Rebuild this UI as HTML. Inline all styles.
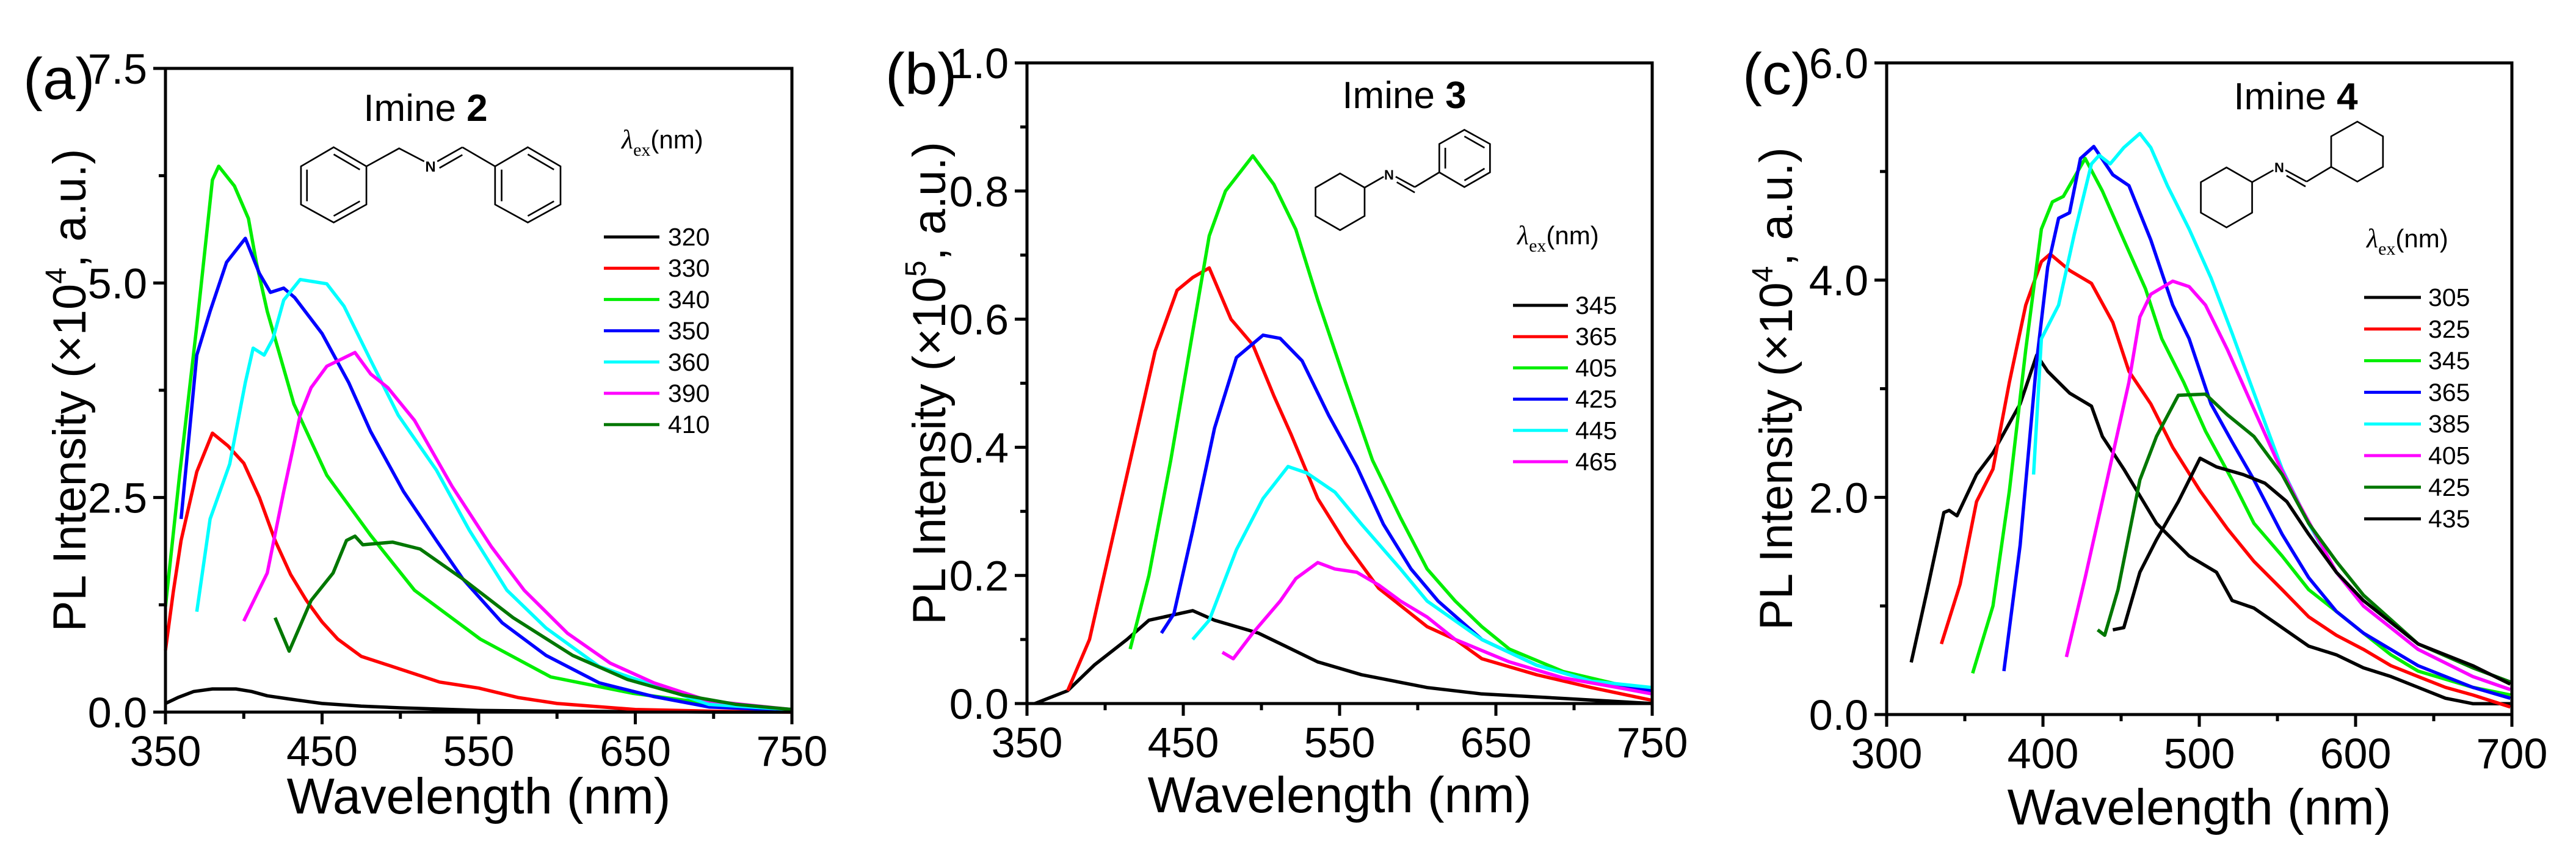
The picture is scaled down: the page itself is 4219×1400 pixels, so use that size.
<!DOCTYPE html>
<html><head><meta charset="utf-8"><style>
html,body{margin:0;padding:0;background:#fff;}
svg{display:block;}
text{font-family:"Liberation Sans",sans-serif;fill:#000;}
</style></head><body>
<svg id="fig" width="4219" height="1400" viewBox="0 0 4219 1400" xmlns="http://www.w3.org/2000/svg">
<g transform="translate(0,0) scale(0.893)" fill="none" stroke="#000" stroke-width="3">
<polygon points="612,270 672,305 672,375 612,408 552,375 552,305"/>
<line x1="612" y1="283" x2="660" y2="311"/><line x1="660" y1="369" x2="612" y2="396"/><line x1="563" y1="311" x2="563" y2="369"/>
<polyline points="672,305 732,272 778,296"/>
<line x1="802" y1="296" x2="848" y2="270"/><line x1="806" y1="308" x2="848" y2="284"/>
<line x1="848" y1="270" x2="908" y2="305"/>
<polygon points="968,270 1028,305 1028,375 968,408 908,375 908,305"/>
<line x1="968" y1="283" x2="1016" y2="311"/><line x1="1016" y1="369" x2="968" y2="396"/><line x1="920" y1="311" x2="920" y2="369"/>
</g>
<text x="705" y="281" font-size="24" font-weight="bold" text-anchor="middle">N</text>
<g transform="translate(1400,0) scale(0.893)" fill="none" stroke="#000" stroke-width="3">
<polygon points="890,318 935,344 935,396 890,422 845,396 845,344"/>
<line x1="935" y1="344" x2="970" y2="324"/>
<line x1="992" y1="324" x2="1027" y2="343"/><line x1="994" y1="334" x2="1027" y2="353"/>
<line x1="1027" y1="343" x2="1072" y2="316"/>
<polygon points="1118,238 1165,264 1165,316 1118,343 1072,316 1072,264"/>
<line x1="1118" y1="250" x2="1155" y2="271"/><line x1="1155" y1="309" x2="1118" y2="331"/><line x1="1083" y1="271" x2="1083" y2="309"/>
</g>
<text x="2275" y="294" font-size="22" font-weight="bold" text-anchor="middle">N</text>
<g transform="translate(2800,0) scale(0.893)" fill="none" stroke="#000" stroke-width="3">
<polygon points="948,307 995,334 995,390 948,417 901,390 901,334"/>
<line x1="995" y1="334" x2="1034" y2="312"/>
<line x1="1056" y1="312" x2="1095" y2="333"/><line x1="1058" y1="322" x2="1093" y2="342"/>
<line x1="1095" y1="333" x2="1140" y2="306"/>
<polygon points="1188,223 1235,250 1235,306 1188,333 1140,306 1140,250"/>
</g>
<text x="3733" y="282" font-size="22" font-weight="bold" text-anchor="middle">N</text>
</svg>
<script>
// ---------- Panel (a) Imine 2 ----------
const A_LEGEND = ["320","330","340","350","360","390","410"];
const A_X_TICKS = [350,450,550,650,750];
const A_Y_TICKS = [0,2.5,5.0,7.5];
const A_Y_LABELS = ["0.0","2.5","5.0","7.5"];
const A_WL_320 = [350,358,368,380,395,405,415,430,450,475,500,550,600,650,700,750];
const A_I_320 = [0.1,0.17,0.24,0.27,0.27,0.24,0.19,0.15,0.1,0.07,0.05,0.02,0.01,0.005,0,0];
const A_WL_330 = [350,355,360,370,380,390,400,410,420,430,440,450,460,475,500,525,550,575,600,650,700,750];
const A_I_330 = [0.72,1.4,2.0,2.8,3.25,3.1,2.9,2.5,2.0,1.6,1.3,1.05,0.85,0.65,0.5,0.35,0.28,0.17,0.1,0.03,0.01,0];
const A_WL_340 = [350,359,370,380,384,394,403,408,415,432,453,481,509,551,596,648,697,750];
const A_I_340 = [1.23,2.76,4.5,6.2,6.36,6.13,5.75,5.24,4.67,3.59,2.76,2.06,1.42,0.85,0.41,0.22,0.1,0.03];
const A_WL_350 = [360,370,378.5,389,401,410,417,425.5,432.5,450,467,481,502,523,540,565,593,627,662,697,750];
const A_I_350 = [2.25,4.16,4.67,5.24,5.52,5.11,4.89,4.94,4.83,4.41,3.84,3.27,2.57,2.0,1.55,1.04,0.66,0.34,0.18,0.06,0.02];
const A_WL_360 = [370,378.5,391,401,406,413,418.6,425.5,436,453,464,481,498.6,523,544,568,593,627,662,697,750];
const A_I_360 = [1.17,2.25,2.89,3.84,4.24,4.16,4.35,4.8,5.04,4.99,4.73,4.1,3.46,2.82,2.12,1.42,0.98,0.53,0.31,0.09,0.03];
const A_WL_390 = [400,415,425.5,436,443,453,471,481,492,509,533,558,579,606.6,634,662,697,750];
const A_I_390 = [1.06,1.62,2.57,3.46,3.78,4.03,4.19,3.94,3.78,3.4,2.63,1.93,1.42,0.92,0.57,0.34,0.13,0.03];
const A_WL_410 = [420,429,443,457,465.6,471,476,495,512.6,540,572,610,645,680,714.5,750];
const A_I_410 = [1.1,0.71,1.3,1.62,2.0,2.05,1.95,1.98,1.9,1.55,1.1,0.66,0.38,0.2,0.09,0.03];

// ---------- Panel (b) Imine 3 ----------
const B_LEGEND = ["345","365","405","425","445","465"];
const B_X_TICKS = [350,450,550,650,750];
const B_Y_TICKS = [0,0.2,0.4,0.6,0.8,1.0];
const B_Y_LABELS = ["0.0","0.2","0.4","0.6","0.8","1.0"];
const B_WL_345 = [355,376,393,414,428,456,470,498,515,536,564,606,641,693,750];
const B_I_345 = [0,0.02,0.06,0.1,0.13,0.145,0.13,0.11,0.09,0.065,0.045,0.025,0.015,0.008,0];
const B_WL_365 = [376,390,404,418,432,446,456,466.6,480.5,494.5,508,519,536,554,575,606,624,641,676,711,750];
const B_I_365 = [0.02,0.1,0.25,0.4,0.55,0.645,0.665,0.68,0.6,0.56,0.48,0.42,0.32,0.25,0.18,0.12,0.1,0.07,0.045,0.025,0.005];
const B_WL_405 = [416,428,442,456,466.6,477,494.5,508,522,536,554,571,589,606,624,641,658.6,693,728,750];
const B_I_405 = [0.085,0.2,0.38,0.58,0.73,0.8,0.855,0.81,0.74,0.63,0.5,0.38,0.29,0.21,0.16,0.12,0.085,0.05,0.03,0.02];
const B_WL_425 = [436,444,456,470,484,501,512,526,543,561,578,595.7,613,641,676,711,750];
const B_I_425 = [0.11,0.14,0.27,0.43,0.54,0.575,0.57,0.535,0.45,0.37,0.28,0.21,0.16,0.1,0.06,0.035,0.02];
const B_WL_445 = [456,466.6,484,501,517,529,547,564,589,606,641,676,711,750];
const B_I_445 = [0.1,0.13,0.24,0.32,0.37,0.36,0.33,0.28,0.21,0.16,0.1,0.06,0.035,0.025];
const B_WL_465 = [475,482,494.5,512,522,536,547,561,575,589,606,624,658.6,693,728,750];
const B_I_465 = [0.08,0.07,0.11,0.16,0.195,0.22,0.21,0.205,0.185,0.16,0.135,0.1,0.065,0.04,0.025,0.015];

// ---------- Panel (c) Imine 4 ----------
const C_LEGEND = ["305","325","345","365","385","405","425","435"];
const C_X_TICKS = [300,400,500,600,700];
const C_Y_TICKS = [0,2,4,6];
const C_Y_LABELS = ["0.0","2.0","4.0","6.0"];
const C_WL_305 = [315.7,326,336.6,340,345,357.5,368,385.4,396,403,417,431,438,451.7,472.6,483,493.5,511,521,535,553,570,587.7,605,622.6,640,657.5,675,699];
const C_I_305 = [0.48,1.15,1.86,1.88,1.83,2.21,2.41,2.86,3.31,3.16,2.96,2.84,2.56,2.26,1.76,1.61,1.46,1.31,1.05,0.98,0.8,0.63,0.55,0.43,0.35,0.25,0.15,0.1,0.1];
const C_WL_325 = [335,347,357.5,368,378.5,389,399,404.6,417,431,444.7,455,469,483,500.5,518,535,553,570,587.7,605,622.6,640,657.5,675,699];
const C_I_325 = [0.65,1.2,1.96,2.26,3.06,3.77,4.17,4.24,4.09,3.97,3.61,3.16,2.86,2.46,2.06,1.71,1.41,1.15,0.9,0.73,0.6,0.45,0.35,0.25,0.18,0.07];
const C_WL_345 = [355,368,378.5,389,399,406,413,427,438,451.7,465.6,476,490,504,521,535,553,570,587.7,605,622.6,640,675,699];
const C_I_345 = [0.38,1.0,2.06,3.36,4.47,4.72,4.77,5.12,4.82,4.37,3.92,3.46,3.06,2.61,2.16,1.76,1.46,1.15,0.95,0.75,0.55,0.4,0.25,0.18];
const C_WL_365 = [375,385.4,396,403,410,417,424,432.5,444.7,455,469,483,493.5,507.5,521,535,553,570,587.7,605,640,675,699];
const C_I_365 = [0.4,1.56,3.26,4.12,4.57,4.62,5.12,5.23,4.97,4.87,4.37,3.77,3.46,2.86,2.51,2.16,1.66,1.26,0.95,0.75,0.45,0.25,0.15];
const C_WL_385 = [394,399,410,420,431,436,443,451.7,462,469,479.6,493.5,507.5,521,535,553,570,587.7,605,622.6,640,675,699];
const C_I_385 = [2.21,3.46,3.77,4.42,5.07,5.15,5.07,5.22,5.35,5.22,4.87,4.47,4.02,3.51,2.96,2.26,1.76,1.31,1.0,0.8,0.6,0.35,0.23];
const C_WL_405 = [415,427,441,455,462,469,483,493.5,504,518,535,549,563,587.7,605,640,675,699];
const C_I_405 = [0.53,1.26,2.16,3.06,3.66,3.87,3.99,3.94,3.77,3.36,2.81,2.36,1.96,1.31,1.0,0.6,0.35,0.23];
const C_WL_425 = [435,439.5,448,462,472.6,486.6,504,518,535,553,570,587.7,605,640,675,699];
const C_I_425 = [0.78,0.73,1.15,2.16,2.56,2.94,2.95,2.76,2.56,2.21,1.76,1.41,1.1,0.65,0.43,0.3];
const C_WL_435 = [444.7,451.7,462,472.6,486.6,500.5,511,528,542,556,570,587.7,605,640,675,699];
const C_I_435 = [0.78,0.8,1.31,1.61,1.96,2.36,2.28,2.21,2.13,1.96,1.66,1.31,1.05,0.65,0.45,0.28];

const NS = "http://www.w3.org/2000/svg";
const svg = document.getElementById('fig');
function mk(tag, attrs, parent){ const e=document.createElementNS(NS,tag); for(const k in attrs) e.setAttribute(k,attrs[k]); (parent||svg).appendChild(e); return e; }

function drawPanel(p){
  const g = mk('g',{});
  
  
  const sx = v => p.L + (v - p.xmin)/(p.xmax - p.xmin)*(p.R - p.L);
  const sy = v => p.B - (v - p.ymin)/(p.ymax - p.ymin)*(p.B - p.T);
  p.series.forEach((s,i)=>{
    const d = s.x.map((xv,j)=> (j?'L':'M') + sx(xv).toFixed(1) + ',' + sy(s.y[j]).toFixed(1)).join(' ');
    const path = mk('path',{d:d, fill:'none', stroke:s.c, 'stroke-width':5.5, 'stroke-linejoin':'round'}, g);
    
    
  });
  const fr = mk('rect',{x:p.L, y:p.T, width:p.R-p.L, height:p.B-p.T, fill:'none', stroke:'#000', 'stroke-width':5}, g);
  
  
  for(let v=p.xmin; v<=p.xmax+1e-6; v+=p.xminor){
    const isMaj = p.xt.some(t=>Math.abs(t-v)<1e-6);
    mk('line',{x1:sx(v),x2:sx(v),y1:p.B,y2:p.B+(isMaj?20:11),stroke:'#000','stroke-width':5},g);
  }
  p.xt.forEach(v=>{
    const t = mk('text',{x:sx(v), y:p.B+88, 'font-size':70, 'text-anchor':'middle'}, g);
    t.textContent = v;
    
    
  });
  for(let v=p.ymin; v<=p.ymax+1e-6; v+=p.yminor){
    const isMaj = p.yt.some(t=>Math.abs(t-v)<1e-6);
    mk('line',{x1:p.L,x2:p.L-(isMaj?20:11),y1:sy(v),y2:sy(v),stroke:'#000','stroke-width':5},g);
  }
  p.yt.forEach((v,i)=>{
    const t = mk('text',{x:p.L-30, y:sy(v)+25, 'font-size':70, 'text-anchor':'end'}, g);
    t.textContent = p.yl[i];
    
    
  });
  const xt = mk('text',{x:(p.L+p.R)/2, y:p.xTitleY, 'font-size':83, 'text-anchor':'middle'}, g);
  xt.textContent = 'Wavelength (nm)';
  
  
  const yt = mk('text',{x:0, y:0, 'font-size':76, 'text-anchor':'middle', transform:`translate(${p.yTitleX},${(p.T+p.B)/2}) rotate(-90)`}, g);
  
  
  yt.appendChild(document.createTextNode('PL Intensity (×10'));
  const sup = mk('tspan',{'font-size':48, dy:-32}, yt); sup.textContent = p.exp;
  const rest = mk('tspan',{dy:32}, yt); rest.textContent = ', a.u.)';
  const pl = mk('text',{x:p.labX, y:p.labY, 'font-size':96}, g);
  pl.textContent = '(' + p.id + ')';
  
  
  const it = mk('text',{x:p.imX, y:p.imY, 'font-size':62, 'text-anchor':'middle'}, g);
  
  
  it.appendChild(document.createTextNode('Imine '));
  const b = mk('tspan',{'font-weight':'bold'}, it); b.textContent = p.num;
  const lh = mk('text',{x:p.lhX, y:p.lhY, 'font-size':42}, g);
  
  
  const lam = mk('tspan',{'font-family':'Liberation Serif, serif','font-style':'italic','font-size':44}, lh); lam.textContent='λ';
  const ex = mk('tspan',{'font-family':'Liberation Serif, serif','font-size':30, dy:12}, lh); ex.textContent='ex';
  const nm = mk('tspan',{dy:-12}, lh); nm.textContent='(nm)';
  p.series.forEach((s,i)=>{
    const y = p.lgY + i*p.lgStep;
    const ln = mk('line',{x1:p.lgX1, x2:p.lgX2, y1:y, y2:y, stroke:s.c, 'stroke-width':5}, g);
    
    
    const tx = mk('text',{x:p.lgTx, y:y+14, 'font-size':41}, g);
    tx.textContent = s.label;
    
    
  });
}

const COLS7 = ['#000000','#ff0000','#00ee00','#0000ff','#00ffff','#ff00ff','#007700'];
drawPanel({id:'a', num:'2', exp:'4', L:271, R:1297, T:112, B:1166, xmin:350, xmax:750, ymin:0, ymax:7.5, xminor:50, yminor:1.25,
  xt:A_X_TICKS, yt:A_Y_TICKS, yl:A_Y_LABELS, xTitleY:1332, yTitleX:140, labX:38, labY:162, imX:697, imY:198,
  lhX:1018, lhY:243, lgX1:989, lgX2:1080, lgTx:1094, lgY:388, lgStep:51.2,
  series:[
    {label:A_LEGEND[0], c:COLS7[0], x:A_WL_320, y:A_I_320},
    {label:A_LEGEND[1], c:COLS7[1], x:A_WL_330, y:A_I_330},
    {label:A_LEGEND[2], c:COLS7[2], x:A_WL_340, y:A_I_340},
    {label:A_LEGEND[3], c:COLS7[3], x:A_WL_350, y:A_I_350},
    {label:A_LEGEND[4], c:COLS7[4], x:A_WL_360, y:A_I_360},
    {label:A_LEGEND[5], c:COLS7[5], x:A_WL_390, y:A_I_390},
    {label:A_LEGEND[6], c:COLS7[6], x:A_WL_410, y:A_I_410}]});
drawPanel({id:'b', num:'3', exp:'5', L:1682, R:2706, T:103, B:1152, xmin:350, xmax:750, ymin:0, ymax:1.0, xminor:50, yminor:0.1,
  xt:B_X_TICKS, yt:B_Y_TICKS, yl:B_Y_LABELS, xTitleY:1330, yTitleX:1548, labX:1450, labY:154, imX:2300, imY:177,
  lhX:2485, lhY:400, lgX1:2478, lgX2:2568, lgTx:2580, lgY:500, lgStep:51.2,
  series:[
    {label:B_LEGEND[0], c:COLS7[0], x:B_WL_345, y:B_I_345},
    {label:B_LEGEND[1], c:COLS7[1], x:B_WL_365, y:B_I_365},
    {label:B_LEGEND[2], c:COLS7[2], x:B_WL_405, y:B_I_405},
    {label:B_LEGEND[3], c:COLS7[3], x:B_WL_425, y:B_I_425},
    {label:B_LEGEND[4], c:COLS7[4], x:B_WL_445, y:B_I_445},
    {label:B_LEGEND[5], c:COLS7[5], x:B_WL_465, y:B_I_465}]});
drawPanel({id:'c', num:'4', exp:'4', L:3090, R:4114, T:103, B:1170, xmin:300, xmax:700, ymin:0, ymax:6, xminor:50, yminor:1,
  xt:C_X_TICKS, yt:C_Y_TICKS, yl:C_Y_LABELS, xTitleY:1350, yTitleX:2935, labX:2854, labY:154, imX:3760, imY:179,
  lhX:3876, lhY:405, lgX1:3872, lgX2:3965, lgTx:3977, lgY:487, lgStep:51.8,
  series:[
    {label:C_LEGEND[0], c:'#000000', x:C_WL_305, y:C_I_305},
    {label:C_LEGEND[1], c:'#ff0000', x:C_WL_325, y:C_I_325},
    {label:C_LEGEND[2], c:'#00ee00', x:C_WL_345, y:C_I_345},
    {label:C_LEGEND[3], c:'#0000ff', x:C_WL_365, y:C_I_365},
    {label:C_LEGEND[4], c:'#00ffff', x:C_WL_385, y:C_I_385},
    {label:C_LEGEND[5], c:'#ff00ff', x:C_WL_405, y:C_I_405},
    {label:C_LEGEND[6], c:'#007700', x:C_WL_425, y:C_I_425},
    {label:C_LEGEND[7], c:'#000000', x:C_WL_435, y:C_I_435}]});
</script>
</body></html>
